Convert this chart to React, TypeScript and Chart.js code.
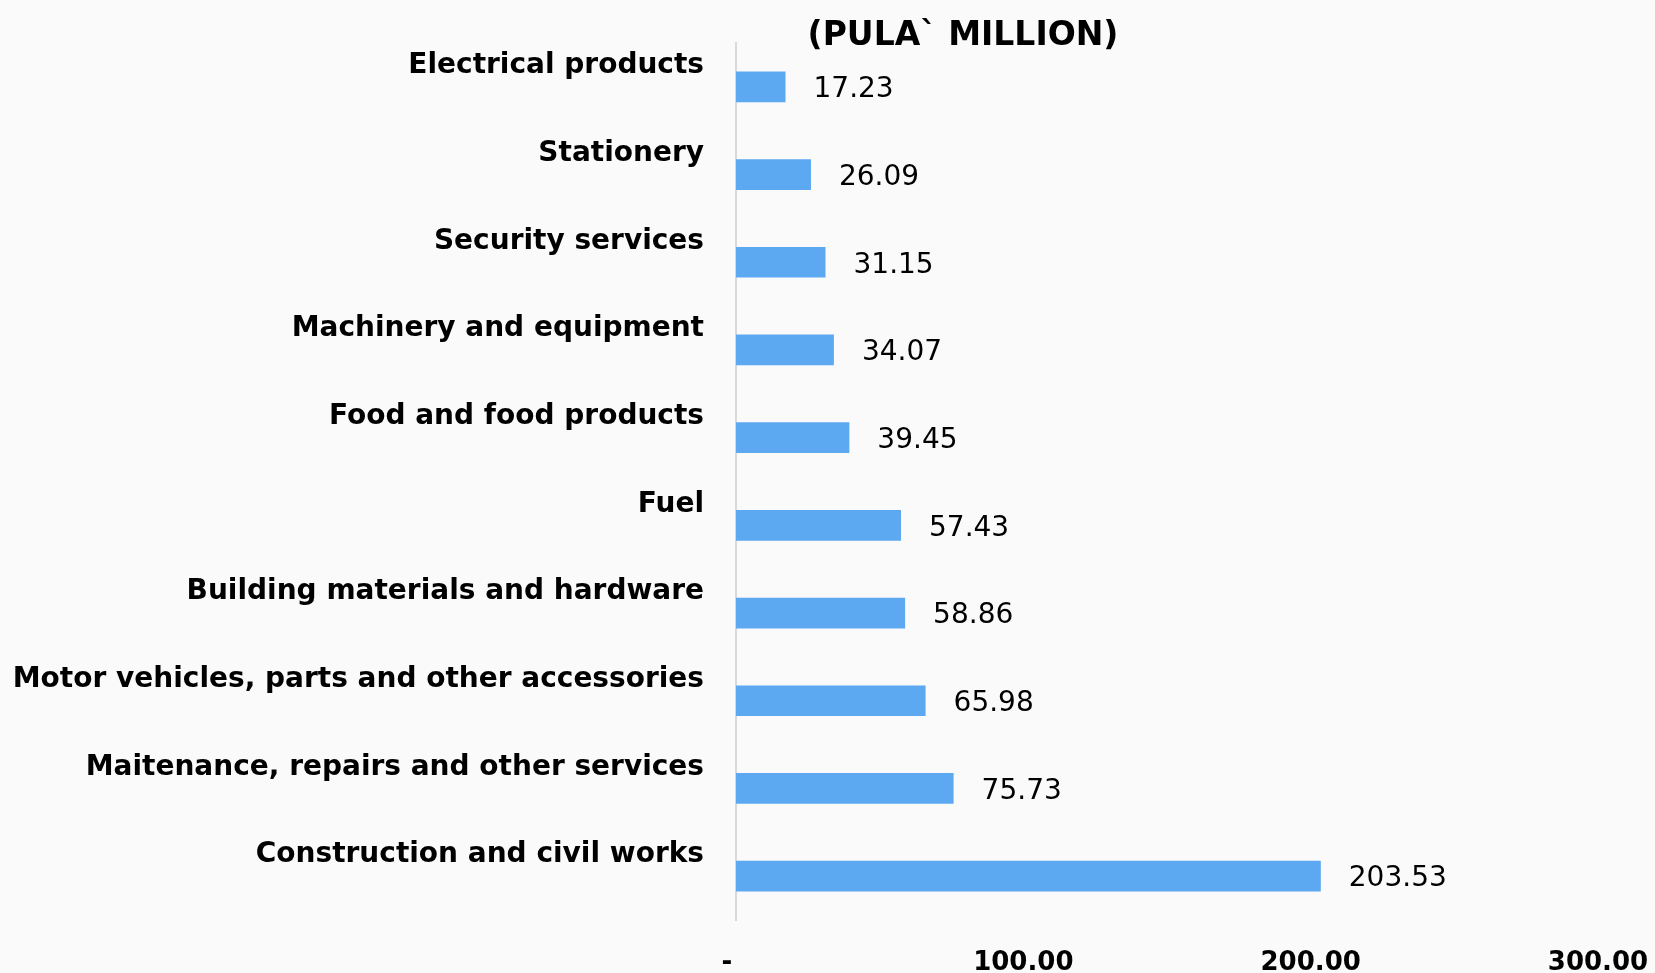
import React, { useEffect, useRef } from "react";
import { Chart, registerables } from "chart.js";

Chart.register(...registerables);

const categories: string[] = [
  "Electrical products",
  "Stationery",
  "Security services",
  "Machinery and equipment",
  "Food and food products",
  "Fuel",
  "Building materials and hardware",
  "Motor vehicles, parts and other accessories",
  "Maitenance, repairs and other services",
  "Construction and civil works",
];

const values: number[] = [17.23, 26.09, 31.15, 34.07, 39.45, 57.43, 58.86, 65.98, 75.73, 203.53];

const titleText = "(PULA` MILLION)";

const BAR_COLOR = "#5ca9f1";
const FONT = "'DejaVu Sans', Verdana, sans-serif";

// Draws the number at the end of each bar
const valueLabels = {
  id: "valueLabels",
  afterDatasetsDraw(chart: any) {
    const ctx = chart.ctx;
    const meta = chart.getDatasetMeta(0);
    ctx.save();
    ctx.font = `28px ${FONT}`;
    ctx.fillStyle = "#000";
    ctx.textAlign = "left";
    ctx.textBaseline = "middle";
    meta.data.forEach((bar: any, i: number) => {
      const v = chart.data.datasets[0].data[i] as number;
      ctx.fillText(v.toFixed(2), bar.x + 28, bar.y + 3);
    });
    ctx.restore();
  },
};

// Heading placed over the left part of the plot
const heading = {
  id: "heading",
  afterDraw(chart: any) {
    const ctx = chart.ctx;
    ctx.save();
    ctx.font = `bold 33px ${FONT}`;
    ctx.fillStyle = "#000";
    ctx.textAlign = "center";
    ctx.textBaseline = "middle";
    ctx.fillText(titleText, chart.chartArea.left + 227, 36);
    ctx.restore();
  },
};

// Light background behind the whole chart
const backdrop = {
  id: "backdrop",
  beforeDraw(chart: any) {
    const ctx = chart.ctx;
    ctx.save();
    ctx.fillStyle = "#fafafa";
    ctx.fillRect(0, 0, chart.width, chart.height);
    ctx.restore();
  },
};

export default function App() {
  const ref = useRef<HTMLCanvasElement>(null);

  useEffect(() => {
    if (!ref.current) return;
    const chart = new Chart(ref.current, {
      type: "bar",
      data: {
        labels: categories,
        datasets: [
          {
            data: values,
            backgroundColor: BAR_COLOR,
            borderWidth: 0,
            categoryPercentage: 0.35,
            barPercentage: 1,
          },
        ],
      },
      options: {
        indexAxis: "y",
        animation: false,
        responsive: true,
        maintainAspectRatio: false,
        layout: { padding: { top: 43, right: 57, left: 0, bottom: 0 } },
        plugins: {
          legend: { display: false },
          title: { display: false },
          tooltip: { enabled: false },
        },
        scales: {
          x: {
            min: 0,
            max: 300,
            ticks: {
              stepSize: 100,
              padding: 28,
              color: "#000",
              font: { family: FONT, size: 26, weight: "bold" },
              callback: (v: any) => (Number(v) === 0 ? "-  " : Number(v).toFixed(2)),
            },
            grid: { display: false, drawTicks: false },
            border: { display: false },
            afterFit: (scale: any) => {
              scale.height = 53;
              scale.paddingLeft = 0;
              scale.paddingRight = 0;
            },
          },
          y: {
            ticks: {
              padding: 32,
              labelOffset: -21,
              color: "#000",
              font: { family: FONT, size: 28, weight: "bold" },
            },
            grid: { display: false, drawTicks: false },
            border: { display: true, color: "#d9d9d9", width: 2 },
            afterFit: (scale: any) => {
              scale.width = 736;
              scale.paddingTop = 0;
              scale.paddingBottom = 0;
            },
          },
        },
      },
      plugins: [backdrop, valueLabels, heading],
    });
    return () => chart.destroy();
  }, []);

  return (
    <div style={{ position: "fixed", left: 0, top: 0, width: "100vw", height: "100vh" }}>
      <canvas ref={ref} />
    </div>
  );
}
